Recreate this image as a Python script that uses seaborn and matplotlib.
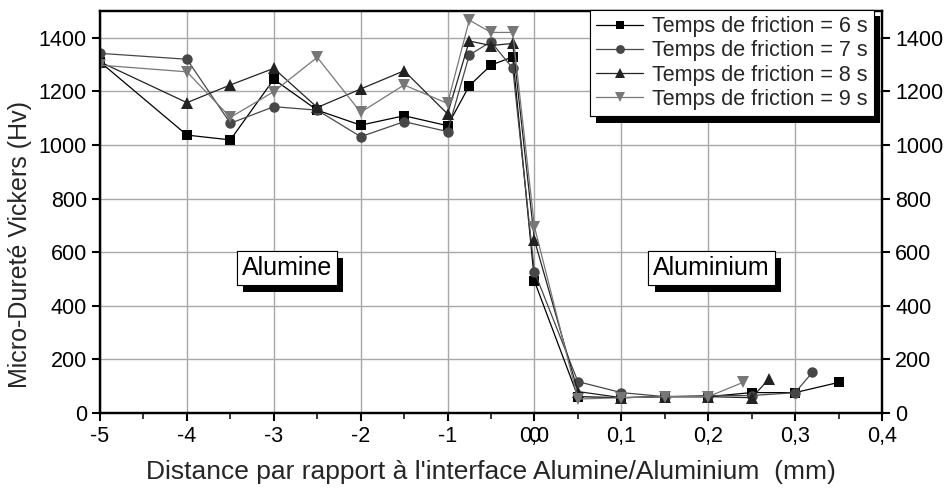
import numpy as np
import pandas as pd
import matplotlib
matplotlib.use("Agg")
import matplotlib.pyplot as plt
import matplotlib.patheffects as pe
import seaborn as sns

# Distance from the alumina/aluminium interface (mm)
x_6s = [-5, -4, -3.5, -3, -2.5, -2, -1.5, -1, -0.75, -0.5, -0.25, 0,
        0.05, 0.1, 0.15, 0.2, 0.25, 0.3, 0.35]
hv_6s = [1310, 1037, 1019, 1245, 1130, 1074, 1109, 1072, 1221, 1298, 1329, 492,
         61, 57, 61, 61, 76, 76, 114]

x_7s = [-5, -4, -3.5, -3, -2.5, -2, -1.5, -1, -0.75, -0.5, -0.25, 0,
        0.05, 0.1, 0.15, 0.2, 0.25, 0.3, 0.32]
hv_7s = [1342, 1320, 1081, 1143, 1130, 1031, 1087, 1050, 1336, 1385, 1286, 527,
         117, 76, 61, 65, 65, 76, 152]

x_8s = [-5, -4, -3.5, -3, -2.5, -2, -1.5, -1, -0.75, -0.5, -0.25, 0,
        0.05, 0.1, 0.15, 0.2, 0.25, 0.27]
hv_8s = [1310, 1158, 1224, 1286, 1140, 1209, 1277, 1116, 1388, 1371, 1379, 645,
         80, 57, 61, 61, 57, 127]

x_9s = [-5, -4, -3.5, -3, -2.5, -2, -1.5, -1, -0.75, -0.5, -0.25, 0,
        0.05, 0.1, 0.15, 0.2, 0.24]
hv_9s = [1298, 1273, 1103, 1199, 1327, 1122, 1224, 1155, 1466, 1420, 1420, 695,
         52, 57, 61, 61, 114]

labels = ["Temps de friction = 6 s", "Temps de friction = 7 s",
          "Temps de friction = 8 s", "Temps de friction = 9 s"]

xticks = [-5, -4, -3, -2, -1, 0, 0.1, 0.2, 0.3, 0.4]
xticklabels = ["-5", "-4", "-3", "-2", "-1", "0,0", "0,1", "0,2", "0,3", "0,4"]
yticks = [0, 200, 400, 600, 800, 1000, 1200, 1400]

sns.set_theme(style="white")
plt.rcParams["font.family"] = ["Liberation Sans", "DejaVu Sans"]

TICK_FS = 15.5
TICK_LEN = 6
TICK_PAD = 3.5

series = [(x_6s, hv_6s, "s", "#000000", 7),
          (x_7s, hv_7s, "o", "#474747", 7.5),
          (x_8s, hv_8s, "^", "#222222", 8),
          (x_9s, hv_9s, "v", "#777777", 8)]

fig = plt.figure(figsize=(9.49, 4.91), dpi=100)
ax = fig.add_axes([0.1054, 0.1589, 0.8240, 0.8187])


# Piecewise scale: the aluminium side (x > 0) is stretched tenfold
def fwd(x):
    x = np.asarray(x, dtype=float)
    return np.where(x <= 0, x, 10 * x)


def inv(x):
    x = np.asarray(x, dtype=float)
    return np.where(x <= 0, x, x / 10)


ax.set_xscale("function", functions=(fwd, inv))

for (xs, ys, mk, col, ms), lab in zip(series, labels):
    df = pd.DataFrame({"x": xs, "y": ys})
    sns.lineplot(data=df, x="x", y="y", ax=ax, marker=mk, color=col,
                 markersize=ms, markeredgewidth=0, linewidth=0.9,
                 estimator=None, sort=False, label=lab, legend=False)

ax.set_xlim(-5, 0.4)
ax.set_ylim(0, 1500)
ax.set_xticks(xticks)
ax.set_xticklabels(xticklabels)
ax.set_xticks([-4.5, -3.5, -2.5, -1.5, -0.5, 0.05, 0.15, 0.25, 0.35], minor=True)
ax.set_yticks(yticks)
# second "0" printed on top of "0,0" at the junction of the two scales
ax.annotate("0", xy=(0, 0), xycoords=("data", "axes fraction"),
            xytext=(0, -(TICK_LEN + TICK_PAD)), textcoords="offset points",
            ha="center", va="top", fontsize=TICK_FS, color="black")

ax.grid(True, which="major", color="#a8a8a8", linewidth=1)
ax.set_axisbelow(True)
for sp in ax.spines.values():
    sp.set_color("black")
    sp.set_linewidth(1.6)
ax.tick_params(axis="both", which="major", direction="out", length=TICK_LEN,
               width=1.5, pad=TICK_PAD, labelsize=TICK_FS, colors="black",
               bottom=True, left=True)
ax.tick_params(axis="x", which="minor", direction="out", length=4, width=1.3,
               bottom=True)

ax.set_xlabel("Distance par rapport à l'interface Alumine/Aluminium  (mm)",
              fontsize=19, labelpad=9)
ax.set_ylabel("Micro-Dureté Vickers (Hv)", fontsize=18)
ax.yaxis.set_label_coords(-0.087, 0.418)

ax2 = ax.twinx()
ax2.set_ylim(0, 1500)
ax2.set_yticks(yticks)
ax2.grid(False)
for sp in ax2.spines.values():
    sp.set_color("black")
    sp.set_linewidth(1.6)
ax2.tick_params(axis="y", direction="out", length=TICK_LEN, width=1.5,
                pad=TICK_PAD, labelsize=TICK_FS, colors="black", right=True)

shadow = [pe.withSimplePatchShadow(offset=(4.5, -4.5), shadow_rgbFace="black",
                                   alpha=1),
          pe.Normal()]

handles, labs = ax.get_legend_handles_labels()
leg = ax2.legend(handles, labs, loc="upper right", bbox_to_anchor=(0.99, 1.003),
                 fontsize=15.5, frameon=True, fancybox=False, shadow=False,
                 borderaxespad=0, handlelength=2.2, handletextpad=0.4,
                 labelspacing=0.15, borderpad=0.3, markerscale=0.85)
leg.get_frame().set_edgecolor("black")
leg.get_frame().set_linewidth(0.8)
leg.get_frame().set_alpha(1)
leg.get_frame().set_path_effects(shadow)

for xp, txt in [(-2.85, "Alumine"), (0.204, "Aluminium")]:
    t = ax.text(xp, 540, txt, ha="center", va="center", fontsize=18,
                color="black", zorder=5,
                bbox=dict(boxstyle="square,pad=0.2", facecolor="white",
                          edgecolor="black", linewidth=0.8))
    t.get_bbox_patch().set_path_effects(shadow)

fig.savefig("out.png", dpi=100)
